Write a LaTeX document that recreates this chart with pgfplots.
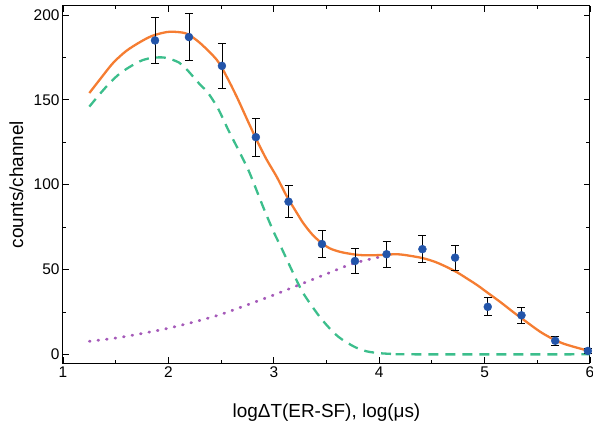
\documentclass[border=0pt]{standalone}
\usepackage{fontspec}
\setmainfont{Liberation Sans}
\usepackage{pgfplots}
\usepackage{pgfplotstable}
\pgfplotsset{compat=1.18}
\definecolor{corange}{RGB}{245,125,50}
\definecolor{cgreen}{RGB}{60,190,140}
\definecolor{cpurple}{RGB}{165,90,185}
\definecolor{cblue}{RGB}{35,85,170}
\pgfplotstableread{
x y e
1.873 185 13.6
2.195 187 13.7
2.508 170 13.0
2.83 128 11.3
3.14 90 9.5
3.457 65 8.1
3.77 55 7.4
4.07 59 7.7
4.41 62 7.9
4.72 57 7.5
5.03 28 5.3
5.35 23 4.8
5.67 8 2.8
5.98 2 1.4
}\pts
\pgfplotstableread{
x y
1.25 146
1.40 157
1.55 166
1.76 173.5
1.95 175
2.10 172
2.18 167.5
2.30 159
2.37 154.6
2.47 145
2.57 132
2.68 118.6
2.77 107
2.90 86.7
3.00 72
3.075 62.4
3.18 48.4
3.27 37
3.37 27.7
3.45 21
3.53 15.3
3.61 10.5
3.69 7.1
3.78 4
3.88 1.8
4.0 0.7
4.17 0.1
4.3 0
6.0 0
}\green
\pgfplotstableread{
x y
1.25 7.7
1.5 9.6
1.75 12.3
2.0 15.4
2.25 19.2
2.5 23.6
2.75 29.2
3.0 35.0
3.25 41.2
3.5 47.4
3.75 53.5
4.0 57.3
4.1 58.3
}\purple
\pgfplotstableread{
x y
1.25 154
1.35 162
1.475 171.7
1.6 178.8
1.73 184
1.85 187.8
1.99 190
2.08 190
2.18 188.8
2.30 183.5
2.46 173.5
2.55 164
2.65 151.6
2.75 138
2.84 126
2.93 115
3.03 104.4
3.12 93.5
3.22 83.2
3.28 77.3
3.36 71
3.44 66.3
3.53 62.5
3.63 60.4
3.75 59
3.85 58.4
4.0 58.5
4.17 59
4.3 58
4.42 56.6
4.53 54.5
4.64 51.5
4.74 48.3
4.83 44.8
4.93 40.8
5.02 36.7
5.15 30.8
5.27 25
5.40 19
5.53 13.2
5.64 9.3
5.74 6.5
5.86 4.2
5.97 2.4
6.0 2.2
}\orange
\begin{document}
\begin{tikzpicture}
\path[use as bounding box] (-63bp,-62bp) rectangle (530bp,363bp);
\begin{axis}[
  at={(0,0)}, anchor=south west, scale only axis,
  width=527bp, height=357bp,
  xmin=1, xmax=6, ymin=-5.1, ymax=205.3,
  xtick={1,2,3,4,5,6}, minor x tick num=1,
  ytick={0,50,100,150,200}, minor y tick num=1,
  tick align=inside, major tick length=6bp, minor tick length=3.5bp,
  axis line style={line width=1bp},
  every tick/.style={black, line width=0.8bp},
  /pgf/number format/assume math mode=true,
  ticklabel style={font=\fontsize{15.5}{18}\selectfont},
  label style={font=\fontsize{19}{22}\selectfont},
  xlabel={logΔT(ER-SF), log(μs)},
  ylabel={counts/channel},
  xlabel style={at={(axis description cs:0.5,-0.154)}, anchor=base},
  ylabel style={at={(axis description cs:-0.0759,0.5)}, anchor=base},
  clip=false,
]
\addplot[cgreen, line width=2.3bp, dash pattern=on 10bp off 7bp, smooth, tension=0.5] table[x=x,y=y] {\green};
\addplot[cpurple, line width=2.8bp, line cap=round, dash pattern=on 0.8bp off 7.8bp, smooth, tension=0.5] table[x=x,y=y] {\purple};
\addplot[corange, line width=2.3bp, smooth, tension=0.5] table[x=x,y=y] {\orange};
\addplot[only marks, mark=*, mark size=4bp, mark options={cblue, draw=cblue},
  error bars/.cd, y dir=both, y explicit,
  error bar style={black, line width=0.8bp},
  error mark options={black, rotate=90, mark size=4bp, line width=0.8bp}]
  table[x=x, y=y, y error=e] {\pts};
\end{axis}
\end{tikzpicture}
\end{document}
